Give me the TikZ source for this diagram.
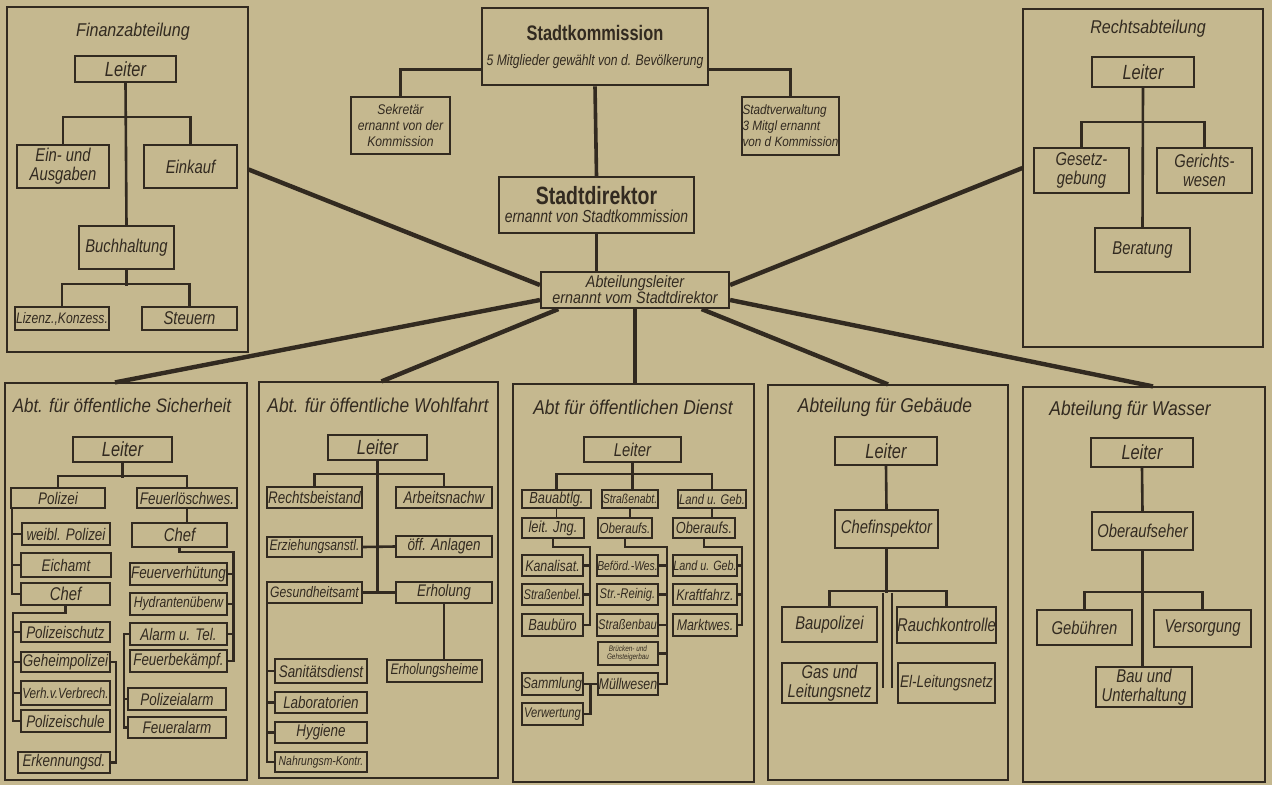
\documentclass[tikz,border=0pt]{standalone}
\usepackage{fontspec}
\setmainfont[FakeStretch=0.87]{Liberation Sans}
\newfontfamily\schrift[FakeStretch=0.8]{Liberation Sans}
\newfontfamily\titelfont[FakeStretch=0.78]{Liberation Sans}
\usetikzlibrary{calc}
\definecolor{papier}{RGB}{197,184,143}
\definecolor{tinte}{RGB}{50,42,32}
\tikzset{
	box/.style={draw=tinte, line width=1.7pt, fill=papier, inner sep=0pt, align=center, text=tinte, font=\schrift\itshape\fontsize{16.8}{17}\selectfont},
	gross/.style={font=\schrift\itshape\fontsize{18.5}{19}\selectfont},
	chef/.style={font=\schrift\itshape\fontsize{20.5}{21}\selectfont},
	klein/.style={font=\schrift\itshape\fontsize{15.2}{16}\selectfont},
	winzig/.style={font=\schrift\itshape\fontsize{13}{14}\selectfont},
	pt/.style={font=\schrift\itshape\fontsize{#1}{#1}\selectfont},
	feld/.style={draw=tinte, line width=1.2pt, inner sep=0pt},
	kopf/.style={text=tinte, inner sep=0pt, font=\itshape\fontsize{20}{21}\selectfont},
	verb/.style={draw=tinte, line width=2.6pt},
	strahl/.style={draw=tinte, line width=4.4pt},
}
\newcommand{\kasten}[7][]{
	\pgfmathsetmacro{\bw}{#5-#3}
	\pgfmathsetmacro{\bh}{#6-#4}
	\node[box, #1, minimum width=\bw pt, minimum height=\bh pt] (#2) at ({(#3+#5)/2},{(#4+#6)/2}) {#7};
}
\newcommand{\feld}[5]{
	\pgfmathsetmacro{\bw}{#4-#2}
	\pgfmathsetmacro{\bh}{#5-#3}
	\node[feld, minimum width=\bw pt, minimum height=\bh pt] (#1) at ({(#2+#4)/2},{(#3+#5)/2}) {};
}

\begin{document}
\begin{tikzpicture}[x=1pt, y=-1pt]
	\fill[papier] (0,0) rectangle (1272,785);
	\useasboundingbox (0,0) rectangle (1272,785);

	\begin{scope}
		\kasten[line width=2.8pt]{komm}{482}{8}{708}{85}{{\upshape\titelfont\bfseries\fontsize{21}{22}\selectfont Stadtkommission}\\[8pt]{\fontsize{15.2}{15}\selectfont 5 Mitglieder gewählt von d. Bevölkerung}}
		\kasten[font=\itshape\fontsize{14}{16}\selectfont]{sekr}{351}{97}{450}{154}{Sekretär\\ernannt von der\\Kommission}
		\kasten[font=\itshape\fontsize{13.5}{16}\selectfont, align=left]{stv}{742}{97}{839}{155}{Stadtverwaltung\\3 Mitgl ernannt\\von d Kommission}
		\kasten[line width=2.2pt]{dir}{499}{177}{694}{233}{{\upshape\titelfont\bfseries\fontsize{25}{26}\selectfont Stadtdirektor}\\[1pt]{\fontsize{17.4}{17}\selectfont ernannt von Stadtkommission}}
		\kasten[line width=2.2pt, font=\itshape\fontsize{16.5}{16}\selectfont]{abtl}{541}{272}{729}{308}{Abteilungsleiter\\ernannt vom Stadtdirektor}
		\draw[verb, line width=3.6pt] ($(komm.south west)+(0,-17)$) -| (sekr.north);
		\draw[verb, line width=3.6pt] ($(komm.south east)+(0,-17)$) -| (stv.north);
		\draw[verb, line width=3.6pt] (komm.south) -- (dir.north);
		\draw[verb, line width=3.6pt] (dir.south) -- (dir.south |- abtl.north);
	\end{scope}

	\feld{fin}{7}{7}{248}{352}
	\feld{recht}{1023}{9}{1263}{347}
	\feld{sich}{5}{383}{247}{780}
	\feld{wohl}{259}{382}{498}{778}
	\feld{dienst}{513}{384}{754}{782}
	\feld{bau}{768}{385}{1008}{780}
	\feld{wass}{1023}{387}{1265}{782}

	\draw[strahl] (abtl.177) -- ($(fin.east)+(0,-10)$);
	\draw[strahl] (abtl.3) -- ($(recht.west)+(0,-10)$);
	\draw[strahl] (abtl.186) -- ($(sich.north)+(-11,0)$);
	\draw[strahl] (abtl.194) -- ($(wohl.north)+(3,0)$);
	\draw[strahl] (abtl.south) -- (abtl.south |- dienst.north);
	\draw[strahl] (abtl.344) -- (bau.north);
	\draw[strahl] (abtl.354) -- ($(wass.north)+(9,0)$);

	\begin{scope}
		\node[kopf, font=\itshape\fontsize{18.5}{19}\selectfont] (fint) at (133,32) {Finanzabteilung};
		\kasten[chef]{fl}{75}{56}{176}{82}{Leiter}
		\kasten[gross]{fea}{17}{145}{109}{188}{Ein- und\\Ausgaben}
		\kasten[gross]{fek}{144}{145}{237}{188}{Einkauf}
		\kasten[gross]{fbh}{79}{226}{174}{269}{Buchhaltung}
		\kasten[klein]{flk}{15}{307}{109}{330}{Lizenz.,Konzess.}
		\kasten[gross]{fst}{142}{307}{237}{330}{Steuern}
		\draw[verb] (fl.south) -- (fbh.north);
		\draw[verb] (fea.north) -- ++(0,-27) -| (fek.north);
		\draw[verb] (fbh.south) -- ++(0,16);
		\draw[verb] (flk.north) -- ++(0,-22) -| (fst.north);
	\end{scope}

	\begin{scope}
		\node[kopf, font=\itshape\fontsize{18.5}{19}\selectfont] (rechtt) at (1148,29) {Rechtsabteilung};
		\kasten[chef]{rl}{1092}{57}{1194}{87}{Leiter}
		\kasten[gross]{rg}{1034}{148}{1129}{193}{Gesetz-\\gebung}
		\kasten[gross]{rw}{1157}{148}{1252}{193}{Gerichts-\\wesen}
		\kasten[gross]{rb}{1095}{228}{1190}{272}{Beratung}
		\draw[verb] (rl.south) -- (rb.north);
		\draw[verb] (rg.north) -- ++(0,-25) -| (rw.north);
	\end{scope}

	\begin{scope}
		\node[kopf, font=\itshape\fontsize{19.5}{20}\selectfont] (sicht) at (122,406) {Abt. für öffentliche Sicherheit};
		\kasten[chef]{sl}{73}{437}{172}{462}{Leiter}
		\kasten{spo}{11}{488}{105}{508}{Polizei}
		\kasten{sfe}{137}{488}{237}{508}{Feuerlöschwes.}
		\kasten{sweib}{22}{523}{110}{545}{weibl. Polizei}
		\kasten{seich}{21}{553}{111}{577}{Eichamt}
		\kasten[gross]{schef}{21}{583}{110}{605}{Chef}
		\kasten{spsch}{21}{622}{110}{642}{Polizeischutz}
		\kasten{sgeh}{21}{652}{110}{672}{Geheimpolizei}
		\kasten[pt=14.7]{sverh}{21}{681}{110}{705}{Verh.v.Verbrech.}
		\kasten{spsl}{21}{710}{110}{732}{Polizeischule}
		\kasten{serk}{18}{752}{110}{773}{Erkennungsd.}
		\kasten[gross]{sfc}{132}{523}{227}{547}{Chef}
		\kasten{sfv}{130}{563}{227}{585}{Feuerverhütung}
		\kasten[klein]{shy}{130}{593}{227}{615}{Hydrantenüberw}
		\kasten{sal}{130}{623}{227}{645}{Alarm u. Tel.}
		\kasten{sfb}{130}{650}{227}{672}{Feuerbekämpf.}
		\kasten{spa}{128}{688}{226}{710}{Polizeialarm}
		\kasten{sfa}{128}{717}{226}{738}{Feueralarm}
		\draw[verb] (sl.south) -- ++(0,15);
		\draw[verb] (spo.north) -- ++(0,-11) -| (sfe.north);
		\draw[verb] ($(spo.south west)+(2,0)$) |- (schef.west);
		\foreach \k in {sweib,seich}
			\draw[verb] (\k.west) -- ++(-8,0);
		\draw[verb] (schef.south) -- ++(0,7) -- ++(-52.5,0) |- (spsl.west);
		\foreach \k in {spsch,sgeh,sverh}
			\draw[verb] (\k.west) -- ++(-8,0);
		\draw[verb] (sgeh.east) -- ++(5,0) |- (serk.east);
		\draw[verb] (sfe.south) -- (sfe.south |- sfc.north);
		\draw[verb] (sfc.south) -- ++(0,4) -- ++(54,0) |- (sfb.east);
		\foreach \k in {sfv,shy,sal}
			\draw[verb] (\k.east) -- ++(6.5,0);
		\draw[verb] (sal.west) -- ++(-5,0) |- (sfa.west);
		\draw[verb] (spa.west) -- ++(-3,0);
	\end{scope}

	\begin{scope}
		\node[kopf] (wohlt) at (378,405) {Abt. für öffentliche Wohlfahrt};
		\kasten[chef]{wl}{328}{435}{427}{460}{Leiter}
		\kasten{wrb}{267}{487}{362}{508}{Rechtsbeistand}
		\kasten{wan}{396}{487}{492}{508}{Arbeitsnachw}
		\kasten[klein]{wez}{267}{537}{362}{557}{Erziehungsanstl.}
		\kasten{woa}{396}{536}{492}{557}{öff. Anlagen}
		\kasten[klein]{wgs}{267}{582}{362}{603}{Gesundheitsamt}
		\kasten{wer}{396}{582}{492}{603}{Erholung}
		\kasten[klein]{weh}{387}{660}{482}{682}{Erholungsheime}
		\kasten{wsd}{275}{659}{367}{683}{Sanitätsdienst}
		\kasten{wlab}{275}{692}{367}{713}{Laboratorien}
		\kasten{why}{275}{722}{367}{743}{Hygiene}
		\kasten[winzig]{wnk}{275}{752}{367}{772}{Nahrungsm-Kontr.}
		\draw[verb] (wrb.north) -- ++(0,-12) -| (wan.north);
		\draw[verb] (wl.south) -- (wl.south |- wgs.east);
		\draw[verb] (wez.east) -- (woa.west);
		\draw[verb] (wgs.east) -- (wer.west);
		\draw[verb] (wer.south) -- (wer.south |- weh.north);
		\draw[verb] ($(wgs.south west)+(1,0)$) |- (wnk.west);
		\foreach \k in {wsd,wlab,why}
			\draw[verb] (\k.west) -- ++(-7,0);
	\end{scope}

	\begin{scope}[box/.append style={pt=14}]
		\node[kopf] (dienstt) at (633,407) {Abt für öffentlichen Dienst};
		\kasten[gross]{dl}{584}{437}{681}{462}{Leiter}
		\kasten[pt=16]{dba}{522}{490}{591}{508}{Bauabtlg.}
		\kasten[pt=13]{dsa}{602}{490}{658}{508}{Straßenabt.}
		\kasten{dlg}{678}{490}{746}{508}{Land u. Geb.}
		\kasten[pt=16]{dli}{522}{518}{584}{538}{leit. Jng.}
		\kasten[pt=14.5]{dob}{598}{518}{652}{538}{Oberaufs.}
		\kasten[pt=16]{dob2}{673}{518}{735}{538}{Oberaufs.}
		\kasten[pt=15.5]{dka}{522}{555}{583}{576}{Kanalisat.}
		\kasten{dsb}{522}{584}{583}{605}{Straßenbel.}
		\kasten[pt=16]{dbb}{522}{614}{583}{636}{Baubüro}
		\kasten[pt=13]{dbw}{597}{555}{658}{576}{Beförd.-Wes.}
		\kasten{dsr}{597}{584}{658}{605}{Str.-Reinig.}
		\kasten{dsbau}{597}{614}{658}{636}{Straßenbau}
		\kasten[font=\schrift\itshape\fontsize{8}{8.5}\selectfont]{dbg}{598}{642}{658}{665}{Brücken- und\\Gehsteigerbau}
		\kasten[pt=15.5]{dmw}{598}{673}{658}{695}{Müllwesen}
		\kasten[pt=15.5]{dsm}{522}{673}{583}{695}{Sammlung}
		\kasten{dvw}{522}{703}{583}{725}{Verwertung}
		\kasten[pt=13.5]{dlg2}{673}{555}{737}{576}{Land u. Geb.}
		\kasten[pt=15.5]{dkf}{673}{584}{737}{605}{Kraftfahrz.}
		\kasten[pt=15.5]{dmk}{673}{614}{737}{636}{Marktwes.}
		\draw[verb] (dl.south) -- (dl.south |- dsa.north);
		\draw[verb] (dba.north) -- ++(0,-15) -| (dlg.north);
		\foreach \k/\m in {dba/dli,dsa/dob,dlg/dob2}
			\draw[verb, line width=1.8pt] (\k.south) -- (\k.south |- \m.north);
		\draw[verb] (dli.south) -- ++(0,8) -- ++(37,0) |- (dbb.east);
		\foreach \k in {dka,dsb}
			\draw[verb] (\k.east) -- ++(7,0);
		\draw[verb] (dob.south) -- ++(0,8) -- ++(42,0) |- (dmw.east);
		\foreach \k in {dbw,dsr,dsbau,dbg}
			\draw[verb] (\k.east) -- ++(9,0);
		\draw[verb] (dob2.south) -- ++(0,8) -- ++(38,0) |- (dmk.east);
		\foreach \k in {dlg2,dkf}
			\draw[verb] (\k.east) -- ++(5,0);
		\draw[verb] (dsm.east) -- (dmw.west);
		\draw[verb] ($(dsm.east)!0.5!(dmw.west)$) |- (dvw.east);
	\end{scope}

	\begin{scope}
		\node[kopf] (baut) at (885,407) {Abteilung für Gebäude};
		\kasten[chef]{gl}{835}{437}{937}{465}{Leiter}
		\kasten[gross]{gci}{835}{510}{938}{548}{Chefinspektor}
		\kasten[gross]{gbp}{782}{607}{877}{642}{Baupolizei}
		\kasten[gross]{grk}{898}{607}{995}{643}{Rauchkontrolle}
		\kasten[gross]{ggl}{782}{663}{877}{703}{Gas und\\Leitungsnetz}
		\kasten{gel}{898}{663}{995}{703}{El-Leitungsnetz}
		\draw[verb] (gl.south) -- (gci.north);
		\draw[verb] (gci.south) -- ++(0,44);
		\draw[verb] (gbp.north) -- ++(0,-15) -| (grk.north);
		\draw[verb] ($(gci.south)+(-3.5,44)$) -- ++(0,95);
		\draw[verb] ($(gci.south)+(5.5,44)$) -- ++(0,95);
	\end{scope}

	\begin{scope}
		\node[kopf] (wasst) at (1130,410) {Abteilung für Wasser};
		\kasten[chef]{al}{1091}{438}{1193}{467}{Leiter}
		\kasten[gross]{aob}{1092}{512}{1193}{550}{Oberaufseher}
		\kasten[gross]{agb}{1037}{610}{1132}{645}{Gebühren}
		\kasten[gross]{avs}{1154}{610}{1251}{647}{Versorgung}
		\kasten[gross]{abu}{1096}{667}{1192}{707}{Bau und\\Unterhaltung}
		\draw[verb] (al.south) -- (aob.north);
		\draw[verb] (aob.south) -- (aob.south |- abu.north);
		\draw[verb] (agb.north) -- ++(0,-17) -| (avs.north);
	\end{scope}
\end{tikzpicture}
\end{document}
